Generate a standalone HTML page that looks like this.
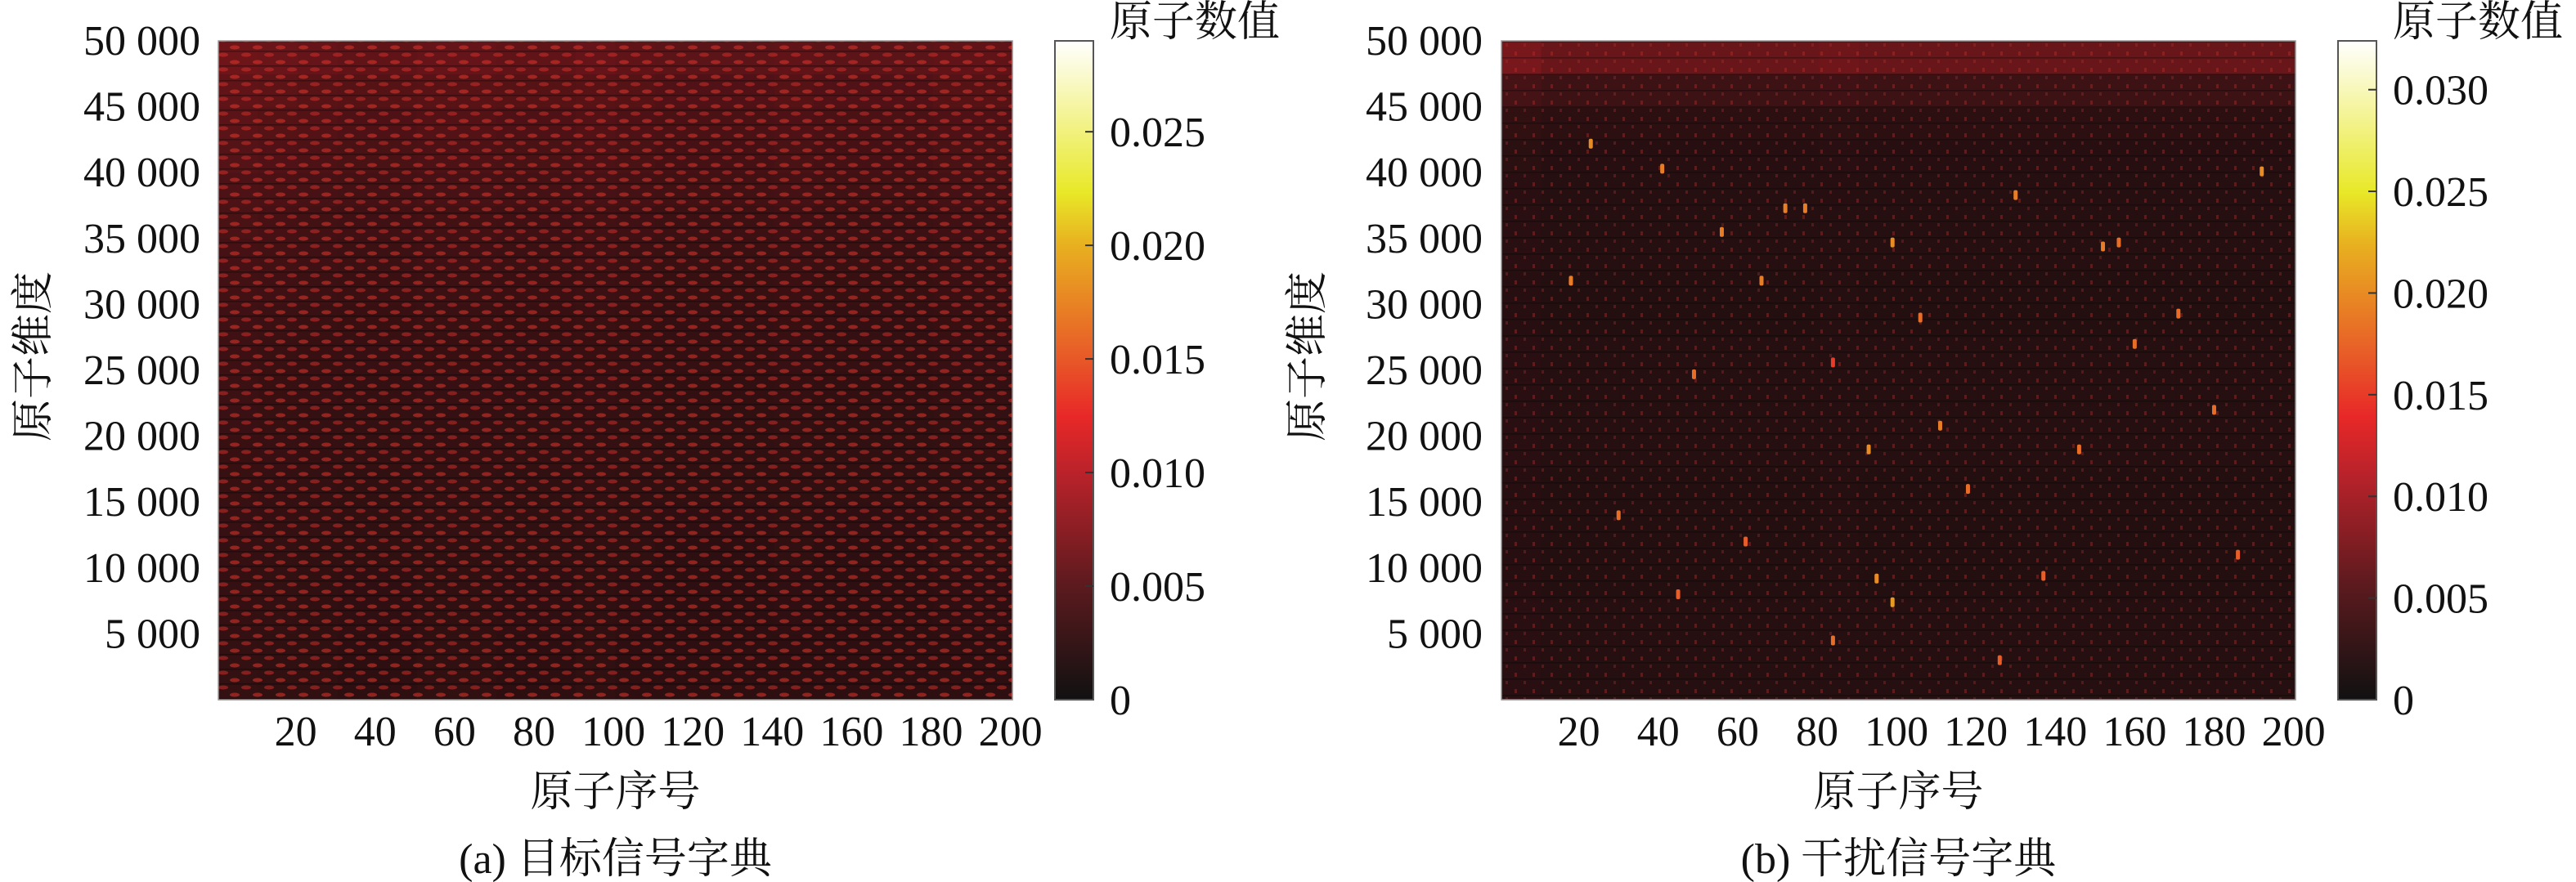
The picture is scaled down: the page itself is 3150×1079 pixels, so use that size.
<!DOCTYPE html>
<html><head><meta charset="utf-8">
<style>
html,body{margin:0;padding:0;background:#fff;}
svg{display:block;}
text{font-family:"Liberation Serif","Noto Serif CJK SC","Noto Sans CJK SC",serif;fill:#111;}
</style></head>
<body>
<svg id="fig" width="3150" height="1079" viewBox="0 0 3150 1079" xmlns="http://www.w3.org/2000/svg">
<defs>
<linearGradient id="cmap" x1="0" y1="1" x2="0" y2="0">
<stop offset="0" stop-color="#111"/><stop offset="0.17" stop-color="#5a1a1e"/><stop offset="0.34" stop-color="#b8222a"/>
<stop offset="0.43" stop-color="#e82828"/><stop offset="0.52" stop-color="#e85a28"/><stop offset="0.69" stop-color="#e8b020"/>
<stop offset="0.77" stop-color="#e8e828"/><stop offset="1" stop-color="#ffffff"/>
</linearGradient>
<pattern id="speckA" width="28" height="18" patternUnits="userSpaceOnUse">
<rect width="28" height="18" fill="#0a0404" opacity="0.45"/>
<ellipse cx="7" cy="4" rx="6" ry="2.5" fill="#e0342a" opacity="0.55"/>
<ellipse cx="21" cy="13" rx="6" ry="2.5" fill="#d8302a" opacity="0.5"/>
<rect y="8" width="28" height="1.5" fill="#000" opacity="0.3"/>
</pattern>
<pattern id="speckB" width="22" height="20" patternUnits="userSpaceOnUse">
<rect width="22" height="20" fill="#080303" opacity="0.35"/>
<rect x="4" y="3" width="3" height="5" fill="#c8302a" opacity="0.35"/>
<rect x="15" y="13" width="3" height="4" fill="#c8302a" opacity="0.3"/>
<rect y="10" width="22" height="1.5" fill="#000" opacity="0.3"/>
</pattern>
</defs>
<g id="panelA"></g>
<g id="panelB"></g>
</svg>
<script>
// ---- data (values in units of 1e-3) ----
const xTicks = [20,40,60,80,100,120,140,160,180,200];
const yTicks = [5000,10000,15000,20000,25000,30000,35000,40000,45000,50000];
const cbTicksA = [0,0.005,0.010,0.015,0.020,0.025];
const cbTicksB = [0,0.005,0.010,0.015,0.020,0.025,0.030];
// row-band means, bottom (0-2500) to top (47500-50000)
const rowA = [4.0,4.0,4.1,4.1,4.2,4.3,4.4,4.5,4.6,4.7,4.9,5.1,5.3,5.6,5.9,6.3,6.8,7.3,7.9,9.0];
const colA = [1.15,1.1,1.05,1.0,1.0,1.05,1.05,1.0,1.0,1.05,1.0,0.95,0.95,0.95,1.0,0.95,0.95,0.95,1.0,1.0];
const rowB = [2.7,2.7,2.7,2.6,2.6,2.6,2.6,2.7,2.7,2.7,2.7,2.6,2.6,2.7,2.7,2.8,3.0,3.5,5.5,9.5];
const colB = [1.15,1.0,1.0,1.0,1.0,1.0,1.0,1.0,1.05,1.0,1.0,1.0,1.0,1.0,1.0,1.0,1.0,1.0,1.0,1.0];
const spotAtom = [23,72,77,84,99,130,192,171,111,93,95,99,84,146,18,66,56,41,152,137,49,156,30,62,118,180,186,106,45,126,160];
const spotDim  = [42200,37300,37300,25600,34700,38300,40100,29300,20800,19000,9200,7400,4500,19000,31800,31800,35500,40300,34400,9400,24700,34700,14000,12000,16000,22000,11000,29000,8000,3000,27000];
const spotVal  = [20,19,19,15,20,19,20,18,19,20,20,21,18,18,19,19,19,19,19,17,18,18,18,17,18,18,17,18,17,17,18];

const NS = "http://www.w3.org/2000/svg";
function mk(tag, attrs, parent){const e=document.createElementNS(NS,tag);for(const k in attrs)e.setAttribute(k,attrs[k]);parent.appendChild(e);return e;}
const stops=[[0,[17,17,17]],[5,[90,26,30]],[10,[184,34,42]],[12.5,[232,40,40]],[15,[232,90,40]],[20,[232,176,32]],[22.3,[232,232,40]],[29,[255,255,255]]];
function color(v,max){ // v in 1e-3
  const t=v/max*29; let i=0; while(i<stops.length-2 && t>stops[i+1][0]) i++;
  const a=stops[i],b=stops[i+1]; let f=(t-a[0])/(b[0]-a[0]); f=Math.max(0,Math.min(1,f));
  const c=a[1].map((x,k)=>Math.round(x+(b[1][k]-x)*f)); return `rgb(${c[0]},${c[1]},${c[2]})`;
}
function panel(g, o){
  const L=o.left,R=o.right,T=50,B=856;
  const xs=a=>L+(a-0.5)/200*(R-L);
  const ys=d=>B-d/50000*(B-T);
  const nr=o.rows.length,nc=o.cols.length;
  for(let i=0;i<nr;i++)for(let j=0;j<nc;j++){
    const r=mk('rect',{x:L+j*(R-L)/nc,y:ys((i+1)*50000/nr),width:(R-L)/nc+0.6,height:(B-T)/nr+0.6,fill:color(o.rows[i]*o.cols[j],o.max)},g);
    
    
  }
  const st=mk('rect',{x:L,y:T,width:R-L,height:B-T,fill:o.pattern},g);
  
  
  if(o.spots){for(let k=0;k<spotAtom.length;k++){
    const s=mk('rect',{x:xs(spotAtom[k])-2.5,y:ys(spotDim[k])-6,width:5,height:12,rx:2,fill:color(spotVal[k],o.max)},g);
    
    
  }}
  const fr=mk('rect',{x:L,y:T,width:R-L,height:B-T,fill:'none',stroke:'#999','stroke-width':1.5},g);
  
  
  yTicks.forEach(v=>{const t=mk('text',{x:o.yLabX,y:ys(v)+17,'font-size':52,'text-anchor':'end'},g);t.textContent=v.toLocaleString('en').replace(',',' ');
    });
  xTicks.forEach(v=>{const t=mk('text',{x:xs(v),y:912,'font-size':52,'text-anchor':'middle'},g);t.textContent=v;
    });
  const xl=mk('text',{x:(L+R)/2,y:986,'font-size':52,'text-anchor':'middle'},g);xl.textContent='原子序号';
  
  const yl=mk('text',{x:0,y:0,'font-size':52,'text-anchor':'middle',transform:`translate(${o.yTitleX},436) rotate(-90)`},g);yl.textContent='原子维度';
  
  const cap=mk('text',{x:(L+R)/2,y:1068,'font-size':52,'text-anchor':'middle'},g);cap.textContent=o.caption;
  
  const cb=mk('rect',{x:o.cbX,y:T,width:47,height:B-T,fill:'url(#cmap)',stroke:'#555','stroke-width':2},g);
  
  const cy=v=>B-v/(o.max/1000)*(B-T);
  o.cbTicks.forEach(v=>{
    if(v>0){const tk=mk('line',{x1:o.cbX+37,x2:o.cbX+47,y1:cy(v),y2:cy(v),stroke:'#333','stroke-width':2},g);
      }
    const t=mk('text',{x:o.cbX+67,y:cy(v)+18,'font-size':52},g);t.textContent=v===0?'0':v.toFixed(3);
    
  });
  const ct=mk('text',{x:o.cbX+67,y:44,'font-size':52},g);ct.textContent='原子数值';
  
}
panel(document.getElementById('panelA'),{left:267,right:1238,yLabX:245,yTitleX:58,cbX:1290,max:29,rows:rowA,cols:colA,cbTicks:cbTicksA,caption:'(a) 目标信号字典',pattern:'url(#speckA)'});
panel(document.getElementById('panelB'),{left:1836,right:2807,yLabX:1813,yTitleX:1616,cbX:2859,max:32.4,rows:rowB,cols:colB,cbTicks:cbTicksB,caption:'(b) 干扰信号字典',spots:true,pattern:'url(#speckB)'});
</script>
</body></html>
